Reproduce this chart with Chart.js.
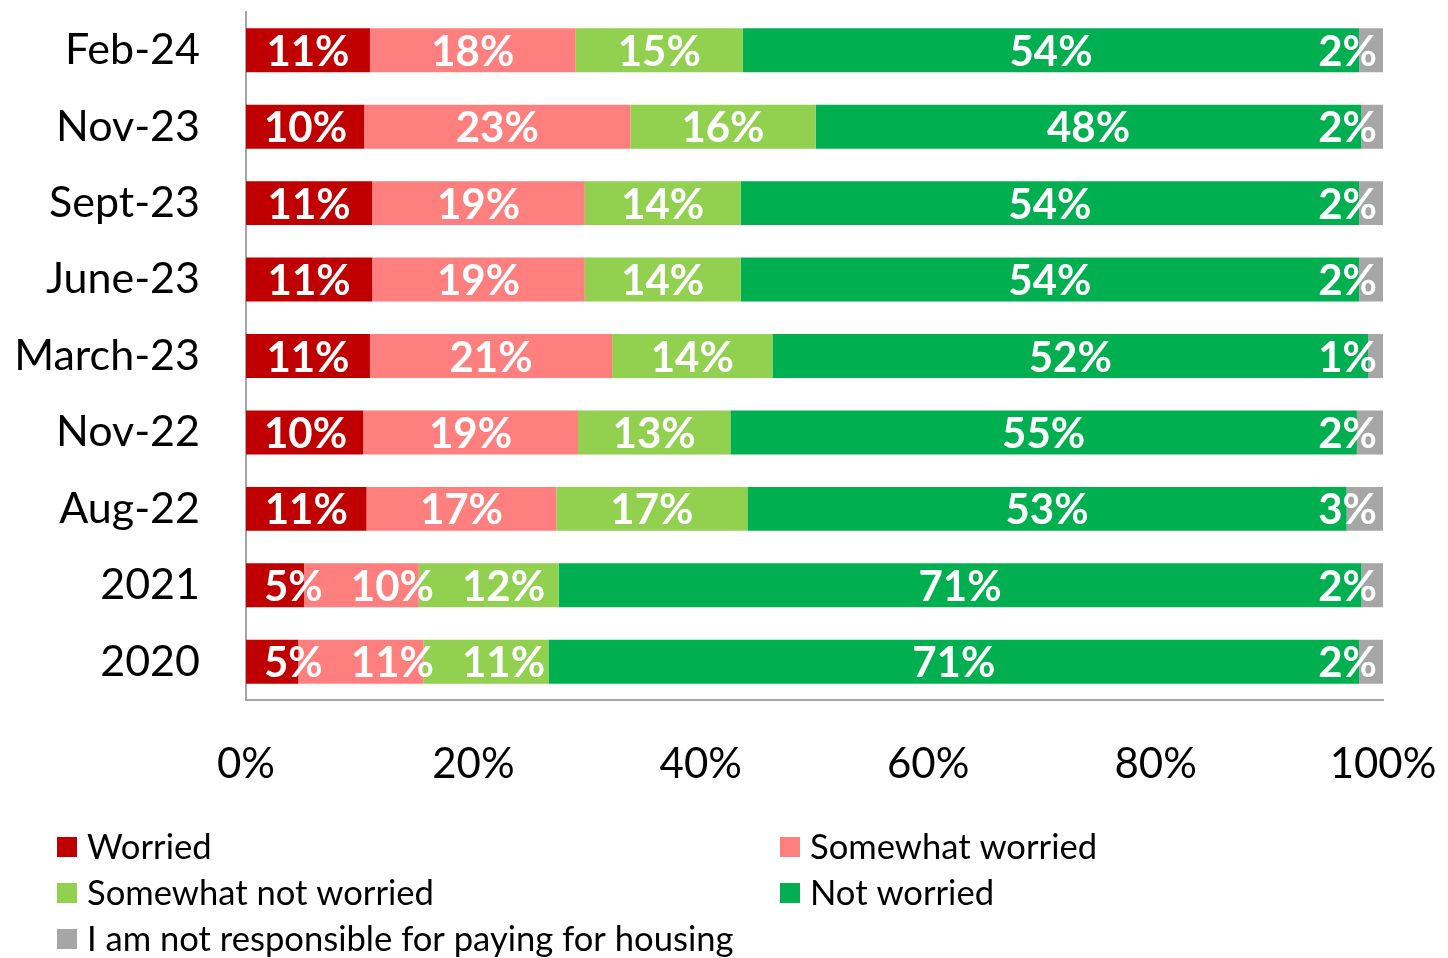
<!DOCTYPE html>
<html>
<head>
<meta charset="utf-8">
<script src="https://cdn.jsdelivr.net/npm/chart.js@4/dist/chart.umd.min.js"></script>
<style>
  html, body { margin: 0; padding: 0; background: #ffffff; }
  #wrap { position: relative; width: 1448px; height: 958px; }
</style>
</head>
<body>
<div id="wrap"><canvas id="c" width="1448" height="958"></canvas></div>
<script>
const categories = ['Feb-24', 'Nov-23', 'Sept-23', 'June-23', 'March-23', 'Nov-22', 'Aug-22', '2021', '2020'];
const worried            = [10.9, 10.4, 11.1, 11.1, 10.9, 10.3, 10.6,  5.1,  4.6];
const somewhatWorried    = [18.1, 23.4, 18.7, 18.7, 21.3, 18.9, 16.7, 10.1, 11.0];
const somewhatNotWorried = [14.7, 16.3, 13.7, 13.7, 14.1, 13.4, 16.8, 12.3, 11.0];
const notWorried         = [54.2, 48.0, 54.4, 54.4, 52.4, 55.1, 52.7, 70.6, 71.3];
const notResponsible     = [ 2.1,  1.9,  2.1,  2.1,  1.3,  2.3,  3.2,  1.9,  2.1];
const seriesNames = ['Worried', 'Somewhat worried', 'Somewhat not worried', 'Not worried', 'I am not responsible for paying for housing'];
const seriesColors = ['#C00000', '#FF7F7F', '#92D050', '#00B050', '#A6A6A6'];
const xTicks = [0, 20, 40, 60, 80, 100];

const FONT = 'Lato, Carlito, Calibri, "Open Sans", sans-serif';

const seriesData = [worried, somewhatWorried, somewhatNotWorried, notWorried, notResponsible];

const labelPlugin = {
  id: 'segLabels',
  afterDatasetsDraw(chart) {
    const ctx = chart.ctx;
    const area = chart.chartArea;
    ctx.save();
    ctx.font = 'bold 42px ' + FONT;
    ctx.fillStyle = '#ffffff';
    ctx.textBaseline = 'middle';
    ctx.textAlign = 'left';
    const nRows = categories.length;
    for (let r = 0; r < nRows; r++) {
      let prevEnd = -Infinity;
      const items = [];
      chart.data.datasets.forEach((ds, di) => {
        const meta = chart.getDatasetMeta(di);
        const bar = meta.data[r];
        const txt = Math.round(ds.data[r]) + '%';
        const w = ctx.measureText(txt).width;
        const cx = (bar.base + bar.x) / 2;
        let left = cx - w / 2;
        if (left < area.left + 18) left = area.left + 18;
        if (left + w > area.right - 6) left = area.right - 6 - w;
        items.push({ txt, left, w, y: bar.y + 2 });
      });
      for (let i = 0; i < items.length; i++) {
        if (i > 0 && i < items.length - 1 && items[i].left < prevEnd + 28) items[i].left = prevEnd + 28;
        prevEnd = items[i].left + items[i].w;
      }
      items.forEach(it => ctx.fillText(it.txt, it.left, it.y));
    }
    ctx.restore();
  }
};

const legendPlugin = {
  id: 'gridLegend',
  afterDraw(chart) {
    const ctx = chart.ctx;
    ctx.save();
    ctx.font = '34.6px ' + FONT;
    ctx.textBaseline = 'middle';
    ctx.textAlign = 'left';
    const cols = [57, 780];
    const rows = [847, 893, 939];
    chart.data.datasets.forEach((ds, i) => {
      const x = cols[i % 2];
      const y = rows[Math.floor(i / 2)];
      ctx.fillStyle = ds.backgroundColor;
      ctx.fillRect(x, y - 10, 20, 20);
      ctx.fillStyle = '#000000';
      ctx.fillText(ds.label, x + 30, y + 1);
    });
    ctx.restore();
  }
};

new Chart(document.getElementById('c'), {
  type: 'bar',
  data: {
    labels: categories,
    datasets: seriesData.map((d, i) => ({
      label: seriesNames[i],
      data: d,
      backgroundColor: seriesColors[i],
      borderWidth: 0,
      barPercentage: 1,
      categoryPercentage: 0.575
    }))
  },
  options: {
    indexAxis: 'y',
    responsive: false,
    animation: false,
    layout: { padding: { top: 12, right: 65, bottom: 158, left: 0 } },
    plugins: {
      legend: { display: false },
      tooltip: { enabled: false }
    },
    scales: {
      x: {
        stacked: true,
        min: 0,
        max: 100,
        afterBuildTicks(scale) { scale.ticks = xTicks.map(v => ({ value: v })); },
        afterFit(scale) {
          scale.height = 100;
          scale.paddingLeft = 0; scale.paddingRight = 0;
          scale.paddingTop = 0; scale.paddingBottom = 0;
        },
        grid: { display: false, drawTicks: false },
        border: { display: true, color: '#A6A6A6', width: 2 },
        ticks: {
          padding: 39,
          color: '#000000',
          font: { family: FONT, size: 42 },
          callback: v => v + '%',
          maxRotation: 0,
          autoSkip: false
        }
      },
      y: {
        stacked: true,
        afterFit(scale) {
          scale.width = 246;
          scale.paddingLeft = 0; scale.paddingRight = 0;
          scale.paddingTop = 0; scale.paddingBottom = 0;
        },
        grid: { display: false, drawTicks: false },
        border: { display: true, color: '#A6A6A6', width: 2 },
        ticks: {
          padding: 46,
          color: '#000000',
          font: { family: FONT, size: 43 },
          autoSkip: false
        }
      }
    }
  },
  plugins: [labelPlugin, legendPlugin]
});
</script>
</body>
</html>
